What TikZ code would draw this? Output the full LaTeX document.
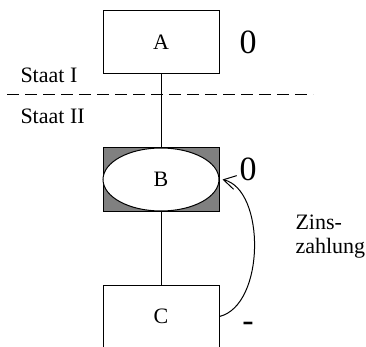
\documentclass[tikz,border=0pt]{standalone}
\usepackage{fontspec}
\setmainfont{Liberation Serif}
\usepackage{tikz}
\usetikzlibrary{shapes,arrows.meta}

\tikzset{
  kasten/.style={draw,rectangle,minimum width=116pt,minimum height=63pt,inner sep=0pt},
  wert/.style={font=\fontsize{34}{36}\selectfont,inner sep=0pt},
  txt/.style={font=\fontsize{22}{23.5}\selectfont,inner sep=0pt}
}

\begin{document}
\begin{tikzpicture}[x=1pt,y=-1pt,line width=1pt]
\useasboundingbox (0,0) rectangle (366,347);
\begin{scope}
\clip (0,0) rectangle (366,347);
\node[kasten,txt] (A) at (161,42.5) {A};
\node[kasten,fill=black!50] (Bbox) at (161,179.5) {};
\node[draw,ellipse,fill=white,minimum width=116pt,minimum height=63pt,inner sep=0pt,txt] (B) at (161,179.5) {B};
\node[kasten,txt] (C) at (161,316.5) {C};
\end{scope}

\node[wert] (wA) at (248,42) {0};
\node[wert] (wB) at (248,169.5) {0};
\node[wert,anchor=base] (wC) at (248,331) {-};

\node[txt,anchor=base west] (s1) at (20,83) {Staat I};
\node[txt,anchor=base west] (s2) at (20,124) {Staat II};
\node[txt,anchor=base west,align=left] (zins) at (295,253) {Zins-\\zahlung};

\coordinate (l) at (7,95);
\coordinate (r) at (313,95);
\draw[dash pattern=on 12pt off 6pt] (l) -- (r);

\draw (A.south) -- (Bbox.north);
\draw (Bbox.south) -- (C.north);
\coordinate (tip) at ([xshift=3pt]B.east);
\draw[-{Straight Barb[length=12pt,width=14pt]}] (C.east) .. controls +(46,-11.5) and +(43,10) .. (tip);
\end{tikzpicture}
\end{document}
